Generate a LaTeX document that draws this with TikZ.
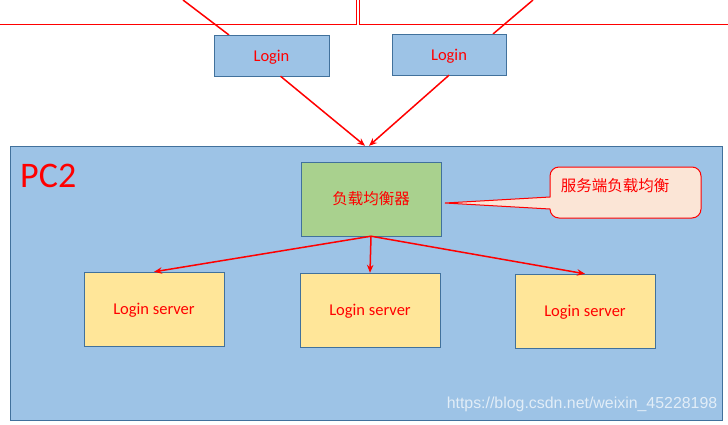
\documentclass[tikz,border=0pt]{standalone}
\usepackage{fontspec}
\setmainfont{Carlito}
\newfontfamily\cjk{Noto Sans CJK SC}
\newfontfamily\wmfont{Liberation Sans}
\usetikzlibrary{arrows.meta}

\definecolor{boxblue}{HTML}{9DC3E6}
\definecolor{edgeblue}{HTML}{41719C}
\definecolor{boxgreen}{HTML}{A9D18E}
\definecolor{boxyellow}{HTML}{FFE699}
\definecolor{notefill}{HTML}{FBE5D6}

\begin{document}
\begin{tikzpicture}[x=1pt,y=-1pt,
    loginbox/.style={draw=edgeblue,fill=boxblue,text=red,minimum width=115pt,minimum height=41pt,inner sep=0pt,text height=14pt,text depth=3pt,font=\fontsize{16.5}{18}\selectfont},
    serverbox/.style={draw=edgeblue,fill=boxyellow,text=red,minimum width=140pt,minimum height=74pt,inner sep=0pt,text height=14pt,text depth=3pt,font=\fontsize{16.5}{18}\selectfont},
    lbbox/.style={draw=edgeblue,fill=boxgreen,text=red,minimum width=140pt,minimum height=74pt,inner sep=0pt,font=\cjk\fontsize{15.5}{17}\selectfont},
    link/.style={draw=red,line width=1.5pt},
    flow/.style={link,-{Stealth[length=8pt,width=6.5pt]}}]
  \useasboundingbox (0,0) rectangle (728,424);

  % PC2 frame
  \node[draw=edgeblue,fill=boxblue,minimum width=712pt,minimum height=274pt,inner sep=0pt] (pc2) at (366,283) {};
  \node[text=red,anchor=west,inner sep=0pt,font=\fontsize{36}{40}\selectfont] (pc2name) at (20,176) {PC2};

  % edges of the two upper frames
  \draw[red] (0,24) -- (356,24) -- (356,0);
  \draw[red] (728,24) -- (359,24) -- (359,0);

  % lines coming from above
  \coordinate (in1) at (183,0);
  \coordinate (in2) at (533,0);
  \draw[link] (in1) -- ([xshift=15pt]214,35);
  \draw[link] (in2) -- (493,34);

  % Login nodes
  \node[loginbox] (login1) at (271.5,55.5) {Login};
  \node[loginbox,minimum width=114pt] (login2) at (449,54.5) {Login};

  % into PC2
  \draw[flow] ([xshift=9pt]login1.south) -- ([xshift=-1pt]pc2.north);
  \draw[flow] (login2.south) -- ([xshift=3pt]pc2.north);

  % load balancer
  \node[lbbox] (lb) at (371,199) {负载均衡器};

  % callout
  \draw[red,fill=notefill,line width=1pt] (550,197) -- (445,203) -- (550,209)
    {[rounded corners=9pt] -- (550,218) -- (701,218) -- (701,167) -- (550,167)} -- cycle;
  \node[text=red,font=\cjk\fontsize{15.5}{17}\selectfont,inner sep=0pt] (note) at (615,185.5) {服务端负载均衡};

  % servers
  \node[serverbox] (srv1) at (154,309) {Login server};
  \node[serverbox] (srv2) at (370,310) {Login server};
  \node[serverbox] (srv3) at (585,311) {Login server};

  % Edges from lb
  \draw[flow] (lb.south) -- (srv1.north);
  \draw[flow] (lb.south) -- (srv2.north);
  \draw[flow] (lb.south) -- (srv3.north);

  % watermark
  \node[text=white,opacity=0.7,font=\wmfont\fontsize{15.9}{18}\selectfont,inner sep=0pt] (mark) at (582,404) {https://blog.csdn.net/weixin\_45228198};
\end{tikzpicture}
\end{document}
